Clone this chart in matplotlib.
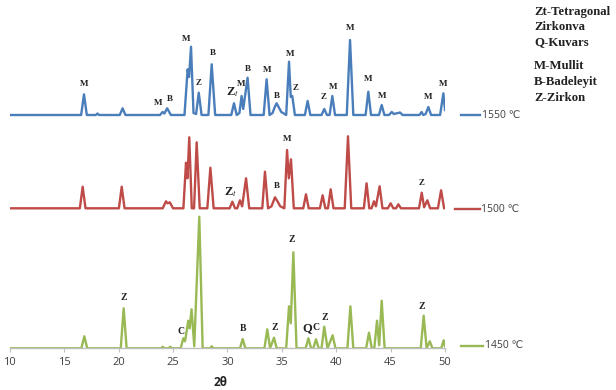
import numpy as np
import matplotlib
matplotlib.use("Agg")
import matplotlib.pyplot as plt

plt.rcParams['font.family'] = ['Open Sans', 'DejaVu Sans']
plt.rcParams['mathtext.fontset'] = 'stix'

## Data (2theta, intensity above each pattern's own baseline)
tt_1550 = [10.0, 16.55, 16.81, 17.07, 17.9, 18.05, 18.2, 20.1, 20.36, 20.62,
           23.8, 24.04, 24.2, 24.46, 24.8, 26.05, 26.34, 26.47, 26.65, 26.88,
           27.12, 27.36, 27.62, 28.25, 28.55, 28.87, 30.35, 30.6, 30.85, 31.1,
           31.3, 31.45, 31.85, 32.12, 33.33, 33.6, 33.87, 34.15, 34.35, 34.52,
           34.7, 34.95, 35.4, 35.66, 35.82, 35.96, 36.2, 37.12, 37.37, 37.62,
           38.65, 38.9, 39.15, 39.39, 39.64, 39.89, 40.97, 41.27, 41.57, 42.7,
           42.95, 43.2, 43.93, 44.18, 44.43, 44.85, 45.1, 45.3, 45.86, 46.1,
           47.65, 47.85, 48.0, 48.22, 48.47, 48.72, 49.55, 49.85, 50.0]
int_1550 = [0, 0, 20.7, 0, 0, 1.5, 0, 0, 6.7, 0,
            0, 3, 1.5, 6.7, 0, 0, 45.7, 38, 68.3, 2,
            1, 22.3, 0, 0, 50.7, 0, 0, 11.7, 0, 2,
            19, 6, 37.3, 0, 0, 35.7, 0, 2, 8, 11.7,
            8, 3, 0, 53.3, 18, 19, 0, 0, 14, 0,
            0, 6, 0, 0, 19, 0, 0, 75, 0, 0,
            23.3, 0, 0, 10, 0, 0, 3, 1, 2.5, 0,
            0, 3, 0, 1, 8, 0, 0, 21.7, 5]

tt_1500 = [10.0, 16.43, 16.69, 16.95, 20.02, 20.28, 20.54, 24.05, 24.35, 24.5,
           24.7, 25.0, 25.95, 26.19, 26.32, 26.49, 26.72, 26.93, 27.17, 27.45,
           28.15, 28.43, 28.73, 30.2, 30.45, 30.7, 30.9, 31.15, 31.35, 31.71,
           32.0, 33.2, 33.45, 33.73, 34.05, 34.37, 34.6, 34.85, 35.23, 35.48,
           35.64, 35.84, 36.1, 36.97, 37.22, 37.47, 38.5, 38.75, 39.0, 39.24,
           39.49, 39.75, 40.78, 41.08, 41.38, 42.54, 42.79, 43.04, 43.25, 43.47,
           43.65, 43.99, 44.25, 44.75, 45.0, 45.25, 45.5, 45.71, 45.95, 47.61,
           47.86, 48.08, 48.38, 48.63, 49.35, 49.64, 49.92, 50.0]
int_1500 = [0, 0, 21.6, 0, 0, 21.6, 0, 0, 7, 5,
            6, 0, 0, 45.6, 30, 71, 0, 0, 66, 0,
            0, 40.6, 0, 0, 6.6, 0, 0, 8, 2, 30,
            0, 0, 36.6, 0, 2, 11, 7, 2, 0, 58.3,
            30, 49, 0, 0, 14, 0, 0, 13, 0, 0,
            19, 0, 0, 72, 0, 0, 25, 0, 0, 7,
            2, 22, 0, 0, 5, 0, 0, 4, 0, 0,
            15.6, 1, 8, 0, 0, 18, 0, 0]

tt_1450 = [10.0, 16.57, 16.84, 17.11, 20.19, 20.46, 20.73, 23.9, 24.05, 24.2,
           24.6, 24.75, 24.9, 25.7, 25.94, 26.1, 26.4, 26.52, 26.7, 26.95,
           27.41, 27.72, 28.4, 28.55, 28.7, 31.15, 31.4, 31.65, 33.4, 33.66,
           33.92, 34.28, 34.53, 35.4, 35.66, 35.82, 36.06, 36.35, 37.19, 37.44,
           37.69, 37.89, 38.14, 38.39, 38.65, 38.9, 39.2, 39.67, 39.93, 41.03,
           41.3, 41.57, 42.75, 43.01, 43.27, 43.5, 43.75, 43.95, 44.18, 44.45,
           47.77, 48.04, 48.31, 48.6, 48.85, 49.65, 49.88, 50.0]
int_1450 = [0, 0, 12, 0, 0, 40, 0, 0, 1.5, 0,
            0, 1.5, 0, 0, 10, 7, 27.6, 20, 39, 2,
            131.6, 0, 0, 2, 0, 0, 9.3, 0, 0, 19,
            0, 10.6, 0, 0, 42, 25, 96, 0, 0, 10,
            0, 0, 9, 0, 0, 21.6, 0, 13, 0, 0,
            42, 0, 0, 15.6, 0, 0, 27.6, 3, 47.6, 0,
            0, 32.6, 0, 7, 0, 0, 8, 2]

series_names = ['1550 \u2103', '1500 \u2103', '1450 \u2103']
series_colors = ['#4a7ebb', '#be4b48', '#98b954']
offsets = [233.3, 140, 0]

# peak labels: (text, 2theta, y)
labels_1550 = [('M', 16.81, 264.3), ('M', 23.59, 245.6), ('B', 24.72, 249.3),
               ('M', 26.16, 309), ('Z', 27.36, 265), ('B', 28.64, 295.6),
               ('Zt', 30.45, 256), ('M', 31.3, 264.3), ('B', 31.92, 279.3),
               ('M', 33.61, 278.3), ('B', 34.58, 252.6), ('M', 35.75, 294),
               ('Z', 36.28, 260), ('Z', 38.81, 251.6), ('M', 39.73, 261.6),
               ('M', 41.27, 320), ('M', 42.95, 269), ('M', 44.24, 252.6),
               ('M', 48.47, 251), ('M', 49.85, 264.3)]
labels_1500 = [('Zt', 30.26, 156.6), ('B', 34.53, 162.3), ('M', 35.45, 209),
               ('Z', 47.80, 165)]
labels_1450 = [('Z', 20.46, 50.6), ('C', 25.70, 17.3), ('B', 31.40, 20),
               ('Z', 34.31, 21.3), ('Z', 35.96, 108.3), ('Q', 37.34, 20),
               ('C', 38.14, 21.3), ('Z', 38.91, 31.3), ('Z', 47.91, 41.6)]

key_lines = ['Zt-Tetragonal', 'Zirkonva', 'Q-Kuvars', 'M-Mullit', 'B-Badeleyit', 'Z-Zirkon']

## Plot
fig = plt.figure(figsize=(6.16, 3.9), dpi=100)
ax = fig.add_axes([9.9 / 616, (390 - 348.3) / 390, 435.1 / 616, 348.3 / 390])

all_tt = [tt_1550, tt_1500, tt_1450]
all_int = [int_1550, int_1500, int_1450]
for tt, inten, off, col in zip(all_tt, all_int, offsets, series_colors):
    ax.plot(tt, np.array(inten) + off, color=col, lw=1.7, solid_joinstyle='round')

# small legend lines beside each pattern
leg_y = [233.3, 139, 2.6]
leg_x0 = [51.47, 50.95, 51.47]
leg_x1 = [53.25, 53.2, 53.5]
for name, col, y, x0, x1 in zip(series_names, series_colors, leg_y, leg_x0, leg_x1):
    ax.plot([x0, x1], [y, y], color=col, lw=1.7, clip_on=False)
    ax.text(x1 + 0.15, y, name, fontsize=7.5, color='#404040', va='center', ha='left')

serif_bold = dict(family='Liberation Serif', fontweight='bold', color='#222222')
for txt, x, y in labels_1550 + labels_1500:
    if txt == 'Zt':
        ax.text(x, y, r'Z$_{t}$', fontsize=9, ha='center', va='center', **serif_bold)
    else:
        ax.text(x, y, txt, fontsize=6.5, ha='center', va='center', **serif_bold)
for txt, x, y in labels_1450:
    fs = 9 if txt == 'Q' else 7
    ax.text(x, y, txt, fontsize=fs, ha='center', va='center', **serif_bold)

ax.set_xlim(10, 50)
ax.set_ylim(0, 348.3)
ax.set_xticks(np.arange(10, 51, 5))
ax.set_yticks([])
for s in ['top', 'right', 'left']:
    ax.spines[s].set_visible(False)
ax.spines['bottom'].set_color('#bfbfbf')
ax.spines['bottom'].set_linewidth(1.0)
ax.tick_params(axis='x', colors='#bfbfbf', length=3, width=0.8, labelsize=8, labelcolor='#404040', pad=3)
ax.patch.set_alpha(0)

fig.text(221 / 616, 1 - 383 / 390, '2\u03b8', fontsize=8.5, fontweight='bold', ha='center', va='center', color='#222222')

key_y = [12, 27, 42, 66, 82, 98]
for t, y in zip(key_lines, key_y):
    fig.text(534 / 616, 1 - y / 390, t, fontsize=9.2, ha='left', va='center',
             family='Liberation Serif', fontweight='bold', color='#222222')

fig.savefig('out.png', dpi=100)
